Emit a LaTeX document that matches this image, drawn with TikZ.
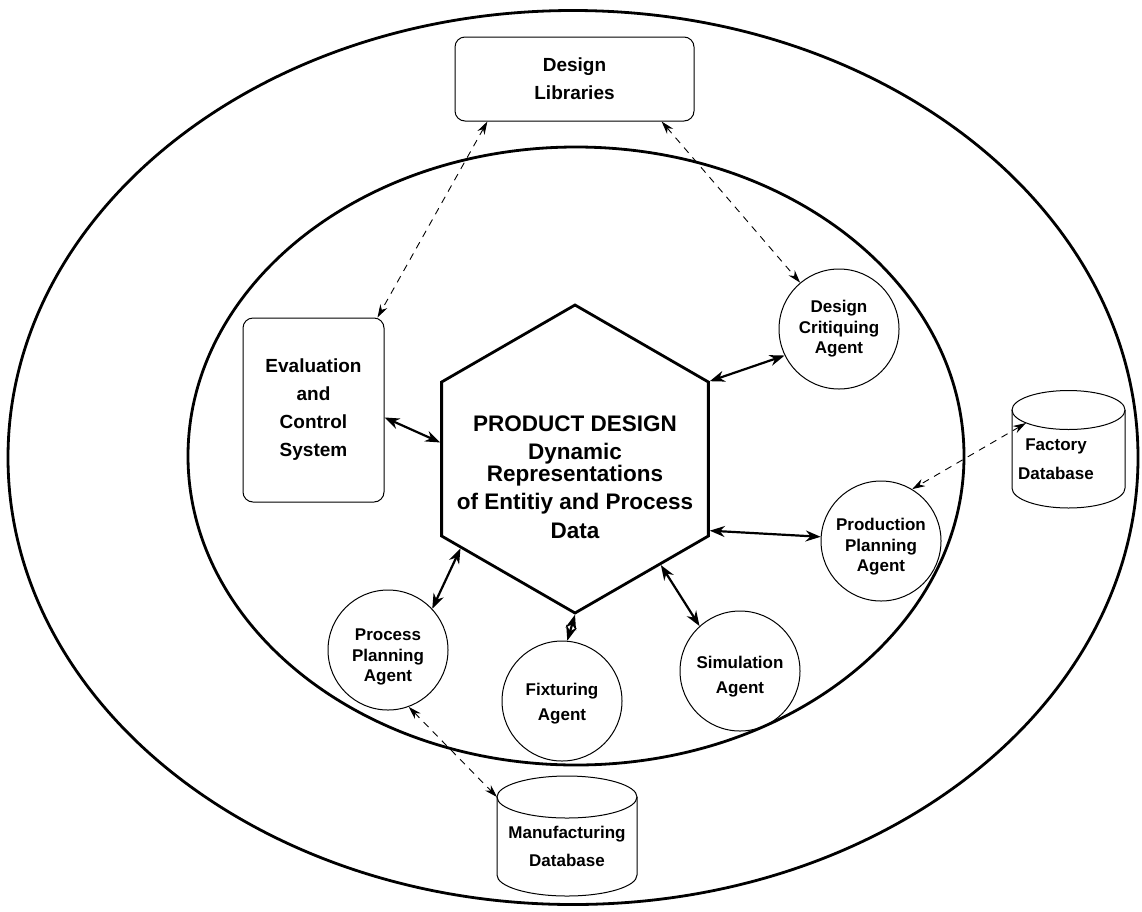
\documentclass[tikz,border=0pt]{standalone}
\usepackage{fontspec}
\setmainfont{Liberation Sans}
\usetikzlibrary{shapes.geometric, arrows.meta}
\begin{document}
\begin{tikzpicture}[x=1pt, y=-1pt,
  ring/.style={line width=2.8pt},
  agent/.style={circle, draw, line width=1pt, minimum size=120pt, inner sep=0pt, align=center,
    font=\fontsize{17}{20.5}\selectfont\bfseries},
  agent2/.style={agent, font=\fontsize{17}{25}\selectfont\bfseries},
  box/.style={draw, rounded corners=10pt, line width=1pt, align=center, inner sep=0pt,
    font=\fontsize{19}{28}\selectfont\bfseries},
  hexshape/.style={regular polygon, regular polygon sides=6, shape border rotate=30,
    minimum size=308pt, inner sep=0pt, draw, line width=2.8pt},
  hextext/.style={align=center, inner sep=0pt, font=\fontsize{22.5}{28.5}\selectfont\bfseries},
  dbtext/.style={align=center, inner sep=0pt, font=\fontsize{17}{28.5}\selectfont\bfseries},
  cyl/.style={line width=1pt},
  link/.style={line width=2.2pt, {Stealth[length=15pt,width=11pt]}-{Stealth[length=15pt,width=11pt]}},
  dlink/.style={line width=0.9pt, dash pattern=on 7pt off 6pt,
    {Stealth[length=13pt,width=8pt]}-{Stealth[length=13pt,width=8pt]}},
]
\useasboundingbox (0,0) rectangle (1142,911);

% rings
\draw[ring] (573,457.5) ellipse [x radius=565pt, y radius=447pt];
\draw[ring] (576,456) ellipse [x radius=388pt, y radius=309pt];

% boxes
\node[box, minimum width=239pt, minimum height=84pt] (dl) at (574.5,79) {Design\\Libraries};
\node[box, minimum width=141pt, minimum height=184pt] (eval) at (313.5,410) {Evaluation\\and\\Control\\System};

% hexagon
\node[hexshape] (hex) at (575,459) {};
\node[hextext] (hexlabel) at (575,477) {PRODUCT DESIGN\\Dynamic\\[-7pt]Representations\\of Entitiy and Process\\Data};

% agents
\node[agent] (dca) at (839,329) {Design\\Critiquing\\Agent};
\node[agent] (ppa) at (881,541) {\rule{0pt}{24pt}Production\\Planning\\Agent};
\node[agent] (proc) at (388,650) {\rule{0pt}{26pt}Process\\Planning\\Agent};
\node[agent2] (fix) at (562,701) {\rule{0pt}{18pt}Fixturing\\Agent};
\node[agent2] (sim) at (740,671) {\rule{0pt}{24pt}Simulation\\Agent};

% databases
\draw[cyl] (1012,410) -- (1012,488) arc[start angle=180, end angle=360, x radius=56.5pt, y radius=20pt] -- (1125,410);
\draw[cyl] (1068.5,410) ellipse [x radius=56.5pt, y radius=19.5pt];
\node[dbtext, minimum width=113pt, minimum height=58pt] (fdb) at (1068.5,459) {Factory\rule{25pt}{0pt}\\Database\rule{25pt}{0pt}};
\coordinate (fdbtop) at (1026,423);

\draw[cyl] (497,797) -- (497,875) arc[start angle=180, end angle=360, x radius=70pt, y radius=21pt] -- (637,797);
\draw[cyl] (567,797) ellipse [x radius=70pt, y radius=21pt];
\node[dbtext, minimum width=140pt, minimum height=57pt] (mdb) at (567,846.5) {Manufacturing\\Database};
\coordinate (mdbtop) at (497,797);

% solid connectors
\draw[link] (eval.-6) -- (hex.173);
\draw[link] (hex.30) -- (dca.206);
\draw[link] (hex.-28) -- (ppa.176);
\draw[link] (hex.218) -- (proc.43);
\draw[link] (hex.-51) -- (sim.132);
\draw[link] (hex.-90) -- (fix.85);

% dashed connectors
\draw[dlink] (dl.206) -- ([xshift=-7pt]eval.north east);
\draw[dlink] (dl.334) -- (dca.130);
\draw[dlink] (fdbtop) -- (ppa.59);
\draw[dlink] (proc.-70) -- (mdbtop);
\end{tikzpicture}
\end{document}
